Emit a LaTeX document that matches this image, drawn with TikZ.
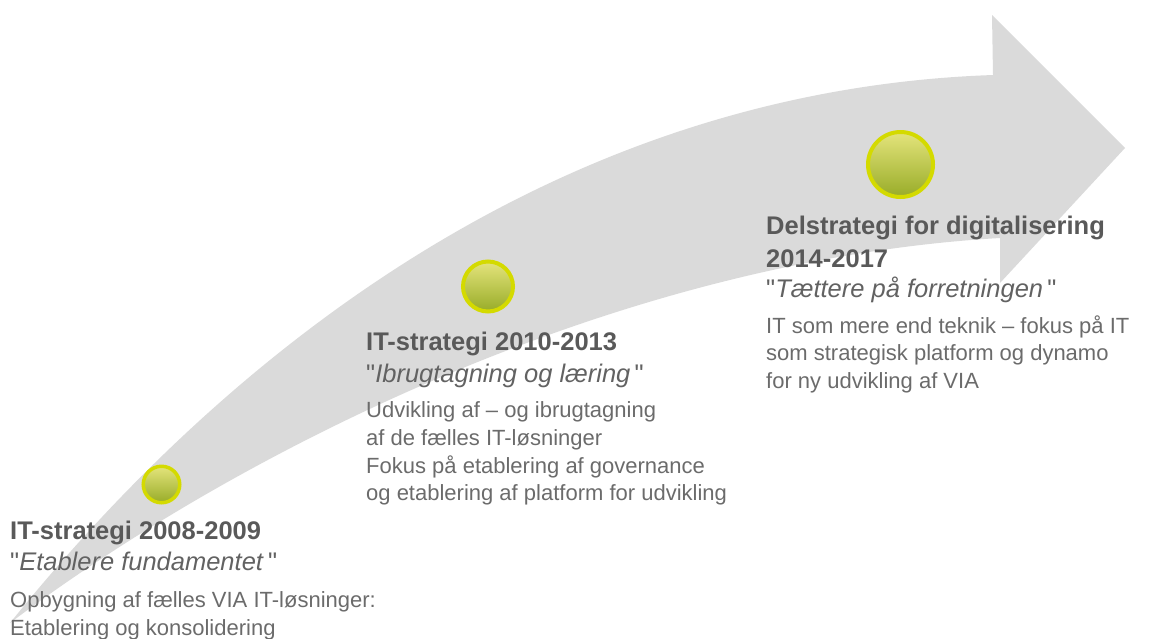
\documentclass[tikz,border=0pt]{standalone}
\usepackage{fontspec}
\setmainfont{Liberation Sans}
\definecolor{arrowgray}{HTML}{DADADA}
\definecolor{ring}{HTML}{D4DA00}
\definecolor{balltop}{HTML}{E4E47C}
\definecolor{ballbot}{HTML}{98AC28}
\definecolor{titlec}{HTML}{595959}
\definecolor{quotec}{HTML}{626262}
\definecolor{bodyc}{HTML}{6B6B6B}
\newcommand{\dq}{\XeTeXglyph\XeTeXcharglyph34 \relax}
\tikzset{
  ttl/.style={anchor=base west, inner sep=0, text=titlec, font=\fontsize{25.5}{30}\selectfont\bfseries},
  qt/.style={anchor=base west, inner sep=0, text=quotec, font=\fontsize{25.5}{30}\selectfont},
  bdy/.style={anchor=base west, inner sep=0, text=bodyc, font=\fontsize{22}{26}\selectfont},
  ball/.style={circle, draw=ring, top color=balltop, bottom color=ballbot, inner sep=0, minimum size=#1},
}
\begin{document}
\begin{tikzpicture}[x=1pt, y=-1pt]
\useasboundingbox (0,0) rectangle (1149,638);
% big curved arrow
\fill[arrowgray] (10,623) .. controls (230,350) and (560,90) .. (993,75)
  -- (992,15) -- (1125,148) -- (1000,283) -- (1000,238)
  .. controls (620,260) and (240,450) .. (10,623) -- cycle;
% milestones
\node[ball=36.5pt, line width=3.5pt] (b1) at (161.5,484.5) {};
\node[ball=50pt, line width=4pt] (b2) at (488,286.5) {};
\node[ball=65pt, line width=4pt] (b3) at (900.5,164.5) {};
% block 1
\node[ttl] (t1) at (10,539) {IT-strategi 2008-2009};
\node[qt] (q1) at (10,570) {\dq\textit{Etablere fundamentet}\,\dq};
\node[bdy] (d1a) at (10,607) {Opbygning af fælles VIA IT-løsninger:};
\node[bdy] (d1b) at (10,635) {Etablering og konsolidering};
% block 2
\node[ttl] (t2) at (366,350) {IT-strategi 2010-2013};
\node[qt] (q2) at (366,382) {\dq\textit{Ibrugtagning og læring}\,\dq};
\node[bdy] (d2a) at (366,417) {Udvikling af – og ibrugtagning};
\node[bdy] (d2b) at (366,445) {af de fælles IT-løsninger};
\node[bdy] (d2c) at (366,473) {Fokus på etablering af governance};
\node[bdy] (d2d) at (366,500) {og etablering af platform for udvikling};
% block 3
\node[ttl] (t3) at (766,234) {Delstrategi for digitalisering};
\node[ttl] (t3b) at (766,267) {2014-2017};
\node[qt] (q3) at (766,297) {\dq\textit{Tættere på forretningen}\,\dq};
\node[bdy] (d3a) at (766,333) {IT som mere end teknik – fokus på IT};
\node[bdy] (d3b) at (766,360) {som strategisk platform og dynamo};
\node[bdy] (d3c) at (766,388) {for ny udvikling af VIA};
\end{tikzpicture}
\end{document}
